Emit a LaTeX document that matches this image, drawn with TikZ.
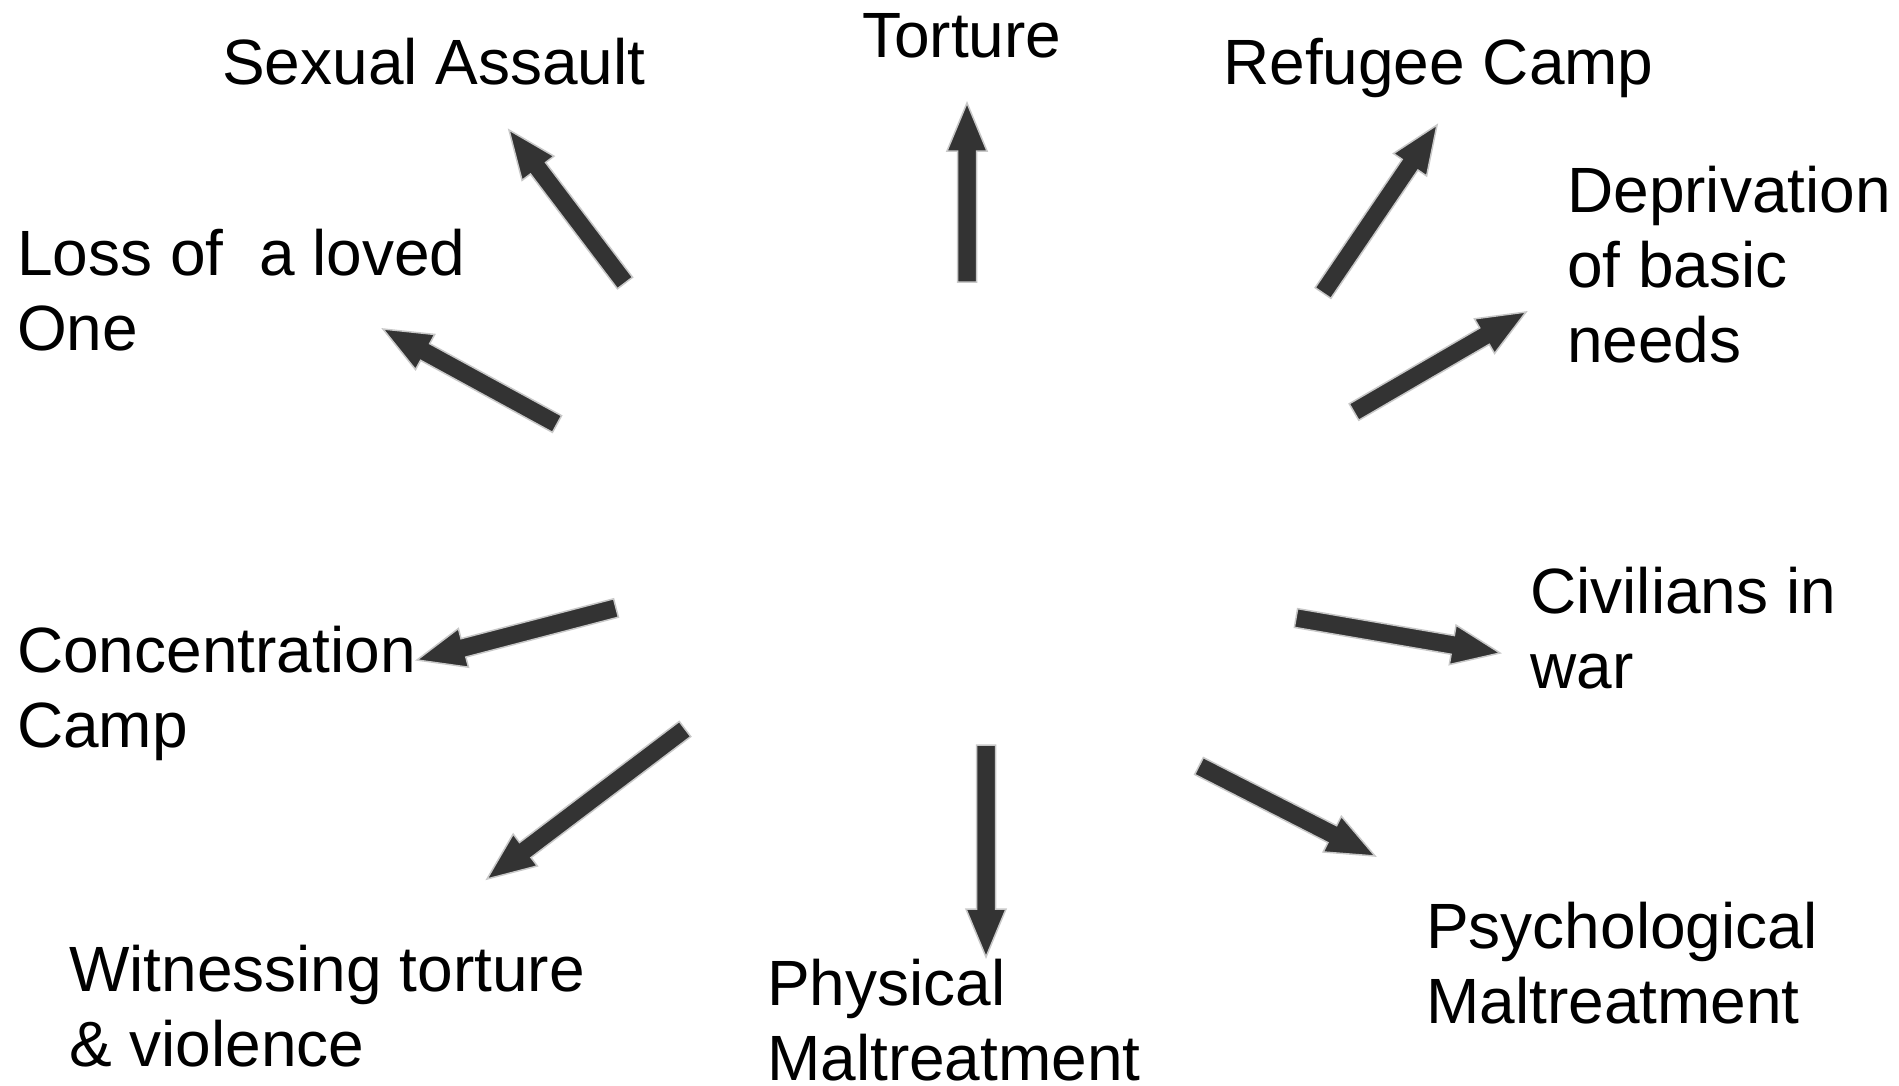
\documentclass[tikz,border=0pt]{standalone}
\usepackage{fontspec}
\setmainfont{Liberation Sans}
\usetikzlibrary{calc}
\definecolor{arrowfill}{HTML}{333333}
\definecolor{arrowedge}{HTML}{C8C8C8}
\tikzset{
  lbl/.style={anchor=base west, inner sep=0pt, font=\fontsize{64}{75}\selectfont, text=black},
  fatarrowstyle/.style={fill=arrowfill, draw=arrowedge, line width=1.5pt, line join=miter},
}
\newcommand\fatarrow[2]{%
  \coordinate (#1-hb) at ($(#2)!48pt!(#1)$);
  \draw[fatarrowstyle] ($(#1)!9.5pt!90:(#2)$) -- ($(#1-hb)!9.5pt!90:(#2)$) -- ($(#1-hb)!20pt!90:(#2)$) -- (#2) -- ($(#1-hb)!20pt!-90:(#2)$) -- ($(#1-hb)!9.5pt!-90:(#2)$) -- ($(#1)!9.5pt!-90:(#2)$) -- cycle;}
\begin{document}
\begin{tikzpicture}[x=1pt,y=-1pt]
\useasboundingbox[fill=white] (0,0) rectangle (1899,1085);

% labels
\node[lbl] (sexual) at (222,84) {Sexual Assault};
\node[lbl] (torture) at (862,57) {Torture};
\node[lbl] (refugee) at (1223,84) {Refugee Camp};
\node[lbl] (depriv) at (1567,212) {\begin{tabular}[t]{@{}l@{}}Deprivation\\of basic\\needs\end{tabular}};
\node[lbl] (loss) at (17,275) {\begin{tabular}[t]{@{}l@{}}Loss of\ \ a loved\\One\end{tabular}};
\node[lbl] (conc) at (17,672) {\begin{tabular}[t]{@{}l@{}}Concentration\\Camp\end{tabular}};
\node[lbl] (witness) at (69,991) {\begin{tabular}[t]{@{}l@{}}Witnessing torture\\\& violence\end{tabular}};
\node[lbl] (physical) at (767,1005) {\begin{tabular}[t]{@{}l@{}}Physical\\Maltreatment\end{tabular}};
\node[lbl] (psych) at (1426,948) {\begin{tabular}[t]{@{}l@{}}Psychological\\Maltreatment\end{tabular}};
\node[lbl] (civil) at (1530,613) {\begin{tabular}[t]{@{}l@{}}Civilians in\\war\end{tabular}};

% arrow endpoints
\coordinate (t1) at (967,282);  \coordinate (h1) at (967,103);
\coordinate (t2) at (625,283);  \coordinate (h2) at (509,130);
\coordinate (t3) at (557,424);  \coordinate (h3) at (383,329);
\coordinate (t4) at (616,608);  \coordinate (h4) at (417,660);
\coordinate (t5) at (685,729);  \coordinate (h5) at (487,879);
\coordinate (t6) at (986,745);  \coordinate (h6) at (986,957);
\coordinate (t7) at (1199,766); \coordinate (h7) at (1375,856);
\coordinate (t8) at (1296,618); \coordinate (h8) at (1500,653);
\coordinate (t9) at (1354,412); \coordinate (h9) at (1526,312);
\coordinate (t10) at (1323,293); \coordinate (h10) at (1437,125);

\fatarrow{t1}{h1}
\fatarrow{t2}{h2}
\fatarrow{t3}{h3}
\fatarrow{t4}{h4}
\fatarrow{t5}{h5}
\fatarrow{t6}{h6}
\fatarrow{t7}{h7}
\fatarrow{t8}{h8}
\fatarrow{t9}{h9}
\fatarrow{t10}{h10}
\end{tikzpicture}
\end{document}
